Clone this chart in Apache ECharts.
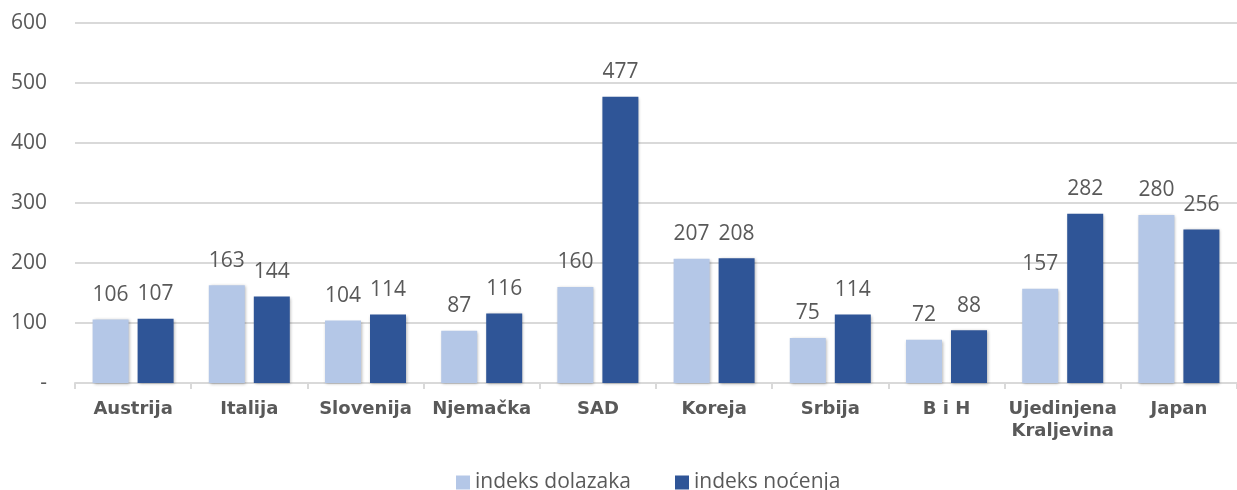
<!DOCTYPE html>
<html>
<head>
<meta charset="utf-8">
<script src="https://cdn.jsdelivr.net/npm/echarts@6/dist/echarts.min.js"></script>
<style>
  html, body { margin: 0; padding: 0; background: #fff; }
  #chart { width: 1237px; height: 490px; }
</style>
</head>
<body>
<div id="chart"></div>
<script>
const categories = ['Austrija', 'Italija', 'Slovenija', 'Njemačka', 'SAD', 'Koreja', 'Srbija', 'B i H', 'Ujedinjena\nKraljevina', 'Japan']
const dolasci = [106, 163, 104, 87, 160, 207, 75, 72, 157, 280]
const nocenja = [107, 144, 114, 116, 477, 208, 114, 88, 282, 256]
const seriesNames = ['indeks dolazaka', 'indeks noćenja']

const chart = echarts.init(document.getElementById('chart'))

const labelStyle = {
  show: true,
  position: 'top',
  distance: 14,
  color: '#595959',
  fontSize: 21,
  fontFamily: 'Open Sans'
}
const barShadow = {
  shadowBlur: 3,
  shadowColor: 'rgba(0,0,0,0.3)',
  shadowOffsetX: 1,
  shadowOffsetY: 1
}

chart.setOption({
  animation: false,
  grid: {
    top: 23,
    left: 75,
    right: -8,
    bottom: 107
  },
  legend: {
    top: 467,
    left: 451,
    itemWidth: 14,
    itemHeight: 14,
    itemGap: 44,
    icon: 'rect',
    textStyle: {
      color: '#595959',
      fontSize: 21,
      fontFamily: 'Open Sans'
    },
    data: seriesNames
  },
  xAxis: {
    type: 'category',
    data: categories,
    axisLine: { lineStyle: { color: '#d9d9d9', width: 2 } },
    axisTick: { show: true, length: 6, lineStyle: { color: '#d9d9d9', width: 2 } },
    axisLabel: {
      interval: 0,
      margin: 15,
      color: '#595959',
      fontWeight: 'bold',
      fontSize: 18,
      fontFamily: 'DejaVu Sans',
      lineHeight: 22
    }
  },
  yAxis: {
    type: 'value',
    min: 0,
    max: 600,
    interval: 100,
    axisLine: { show: false },
    axisTick: { show: false },
    splitLine: { lineStyle: { color: '#d9d9d9', width: 2 } },
    axisLabel: {
      margin: 28,
      color: '#595959',
      fontSize: 21,
      fontFamily: 'Open Sans',
      formatter: v => (v === 0 ? '-' : v)
    }
  },
  series: [{
    name: seriesNames[0],
    type: 'bar',
    data: dolasci,
    barWidth: 36,
    barGap: '25%',
    itemStyle: Object.assign({ color: '#b4c7e7' }, barShadow),
    label: labelStyle
  }, {
    name: seriesNames[1],
    type: 'bar',
    data: nocenja,
    barWidth: 36,
    itemStyle: Object.assign({ color: '#2f5597' }, barShadow),
    label: labelStyle
  }]
})
</script>
</body>
</html>
